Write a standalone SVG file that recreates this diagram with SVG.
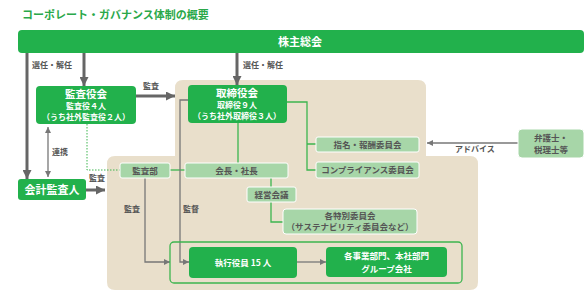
<svg xmlns="http://www.w3.org/2000/svg" width="587" height="306" viewBox="0 0 587 306">
<defs>
<style>
text{font-family:"Noto Sans CJK JP","Noto Sans",sans-serif;font-weight:bold;}
.dg{fill:#22b14c;}
.lg{fill:#a7d6a8;stroke:#ffffff;stroke-width:1;}
.wt{fill:#ffffff;text-anchor:middle;}
.gt{fill:#555555;text-anchor:middle;font-size:8.5px;}
.lbl{fill:#555555;font-size:8px;}
.thick{stroke:#666666;stroke-width:3;fill:none;}
.thin{stroke:#777777;stroke-width:1.3;fill:none;}
.gl{stroke:#3cb54f;stroke-width:1.3;fill:none;}
</style>
<marker id="big" markerUnits="userSpaceOnUse" viewBox="0 0 10 10" refX="10" refY="5" markerWidth="10" markerHeight="9" orient="auto">
<path d="M0,0 L10,5 L0,10 Z" fill="#666666"/>
</marker>
<marker id="sm" markerUnits="userSpaceOnUse" viewBox="0 0 10 10" refX="10" refY="5" markerWidth="6" markerHeight="6" orient="auto">
<path d="M0,0 L10,5 L0,10 Z" fill="#777777"/>
</marker>
<marker id="sms" markerUnits="userSpaceOnUse" viewBox="0 0 10 10" refX="0" refY="5" markerWidth="6" markerHeight="6" orient="auto">
<path d="M10,0 L0,5 L10,10 Z" fill="#777777"/>
</marker>
</defs>
<rect width="587" height="306" fill="#ffffff"/>
<text x="22" y="19" font-size="11" fill="#2aa84a">コーポレート・ガバナンス体制の概要</text>
<path id="bg" d="M175,88 Q175,80 183,80 L418,80 Q426,80 426,88 L426,156 L470,156 Q478,156 478,164 L478,282 Q478,290 470,290 L115,290 Q107,290 107,282 L107,164 Q107,156 115,156 L175,156 Z" fill="#e9dfcb"/>
<g id="connectors">
<line class="thick" x1="27" y1="53" x2="27" y2="179" marker-end="url(#big)"/>
<line class="thick" x1="84" y1="53" x2="84" y2="86" marker-end="url(#big)"/>
<line class="thick" x1="237" y1="53" x2="237" y2="85" marker-end="url(#big)"/>
<line class="thick" x1="136" y1="96" x2="175" y2="96" marker-end="url(#big)"/>
<line class="thick" x1="86" y1="190" x2="105" y2="190" marker-end="url(#big)"/>
<line class="thin" x1="48" y1="127" x2="48" y2="177" marker-start="url(#sms)" marker-end="url(#sm)"/>
<path d="M87,124 L87,170 L120,170" stroke="#3cb54f" stroke-width="1" stroke-dasharray="1.5,1.5" fill="none"/>
<line class="gl" x1="170" y1="170" x2="185" y2="170"/>
<line class="gl" x1="238" y1="123" x2="238" y2="163"/>
<path class="gl" d="M287,102 L307,102 L307,170 L316,170 M307,144 L316,144"/>
<line class="gl" x1="271" y1="178" x2="271" y2="187"/>
<path class="gl" d="M271,202 L271,222 L283,222"/>
<path class="thin" d="M188,100 L180,100 L180,262 L189,262" marker-end="url(#sm)"/>
<path class="thin" d="M145,178 L145,262 L170,262" marker-end="url(#sm)"/>
<line class="thin" x1="297" y1="262" x2="326" y2="262" marker-end="url(#sm)"/>
<line class="thin" x1="518" y1="143" x2="427" y2="143" marker-end="url(#sm)"/>
<text class="lbl" x="32" y="68">選任・解任</text>
<text class="lbl" x="243" y="68">選任・解任</text>
<text class="lbl" x="143" y="89">監査</text>
<text class="lbl" x="89" y="181">監査</text>
<text class="lbl" x="52" y="155">連携</text>
<text class="lbl" x="124" y="212">監査</text>
<text class="lbl" x="183" y="212">監督</text>
<text class="lbl" x="455" y="152">アドバイス</text>
</g>
<g id="kabunushi">
<rect class="dg" x="18" y="30" width="566" height="23" rx="4"/>
<text class="wt" x="300" y="46" font-size="11">株主総会</text>
</g>
<g id="kansayakukai">
<rect class="dg" x="36" y="86" width="100" height="38" rx="4"/>
<text class="wt" x="86" y="98" font-size="10.5">監査役会</text>
<text class="wt" x="86" y="109" font-size="8">監査役４人</text>
<text class="wt" x="86" y="120" font-size="8">（うち社外監査役２人）</text>
</g>
<g id="torishimariyakukai">
<rect class="dg" x="188" y="85" width="99" height="38" rx="4"/>
<text class="wt" x="237" y="97" font-size="10.5">取締役会</text>
<text class="wt" x="237" y="108" font-size="8">取締役９人</text>
<text class="wt" x="237" y="119" font-size="8">（うち社外取締役３人）</text>
</g>
<g id="kaikeikansanin">
<rect class="dg" x="18" y="179" width="68" height="21" rx="3"/>
<text class="wt" x="52" y="194" font-size="11">会計監査人</text>
</g>
<g id="kansabu">
<rect class="lg" x="120" y="163" width="50" height="15" rx="2"/>
<text class="gt" x="145" y="173.5">監査部</text>
</g>
<g id="kaicho">
<rect class="lg" x="185" y="163" width="103" height="15" rx="2"/>
<text class="gt" x="236.5" y="173.5">会長・社長</text>
</g>
<g id="keiei">
<rect class="lg" x="247" y="187" width="49" height="15" rx="2"/>
<text class="gt" x="271.5" y="197.5">経営会議</text>
</g>
<g id="tokubetsu">
<rect class="lg" x="283" y="209" width="134" height="25" rx="3"/>
<text class="gt" x="350" y="219">各特別委員会</text>
<text class="gt" x="350" y="230">（サステナビリティ委員会など）</text>
</g>
<g id="shimei">
<rect class="lg" x="316" y="137" width="103" height="15" rx="2"/>
<text class="gt" x="367.5" y="147.5">指名・報酬委員会</text>
</g>
<g id="compliance">
<rect class="lg" x="316" y="162" width="103" height="16" rx="2"/>
<text class="gt" x="367.5" y="173">コンプライアンス委員会</text>
</g>
<g id="bengoshi">
<rect class="lg" x="518" y="129" width="66" height="29" rx="4"/>
<text class="gt" x="551" y="140.5">弁護士・</text>
<text class="gt" x="551" y="153">税理士等</text>
</g>
<g id="shikko-group">
<rect x="170" y="242" width="292" height="41" rx="4" fill="none" stroke="#3cb54f" stroke-width="1.3"/>
</g>
<g id="shikko">
<rect class="dg" x="189" y="247" width="108" height="31" rx="4"/>
<text class="wt" x="243" y="265.5" font-size="8.5">執行役員 15 人</text>
</g>
<g id="jigyobu">
<rect class="dg" x="326" y="247" width="121" height="30" rx="4"/>
<text class="wt" x="386.5" y="259" font-size="8.5">各事業部門、本社部門</text>
<text class="wt" x="386.5" y="271.5" font-size="8.5">グループ会社</text>
</g>
</svg>
